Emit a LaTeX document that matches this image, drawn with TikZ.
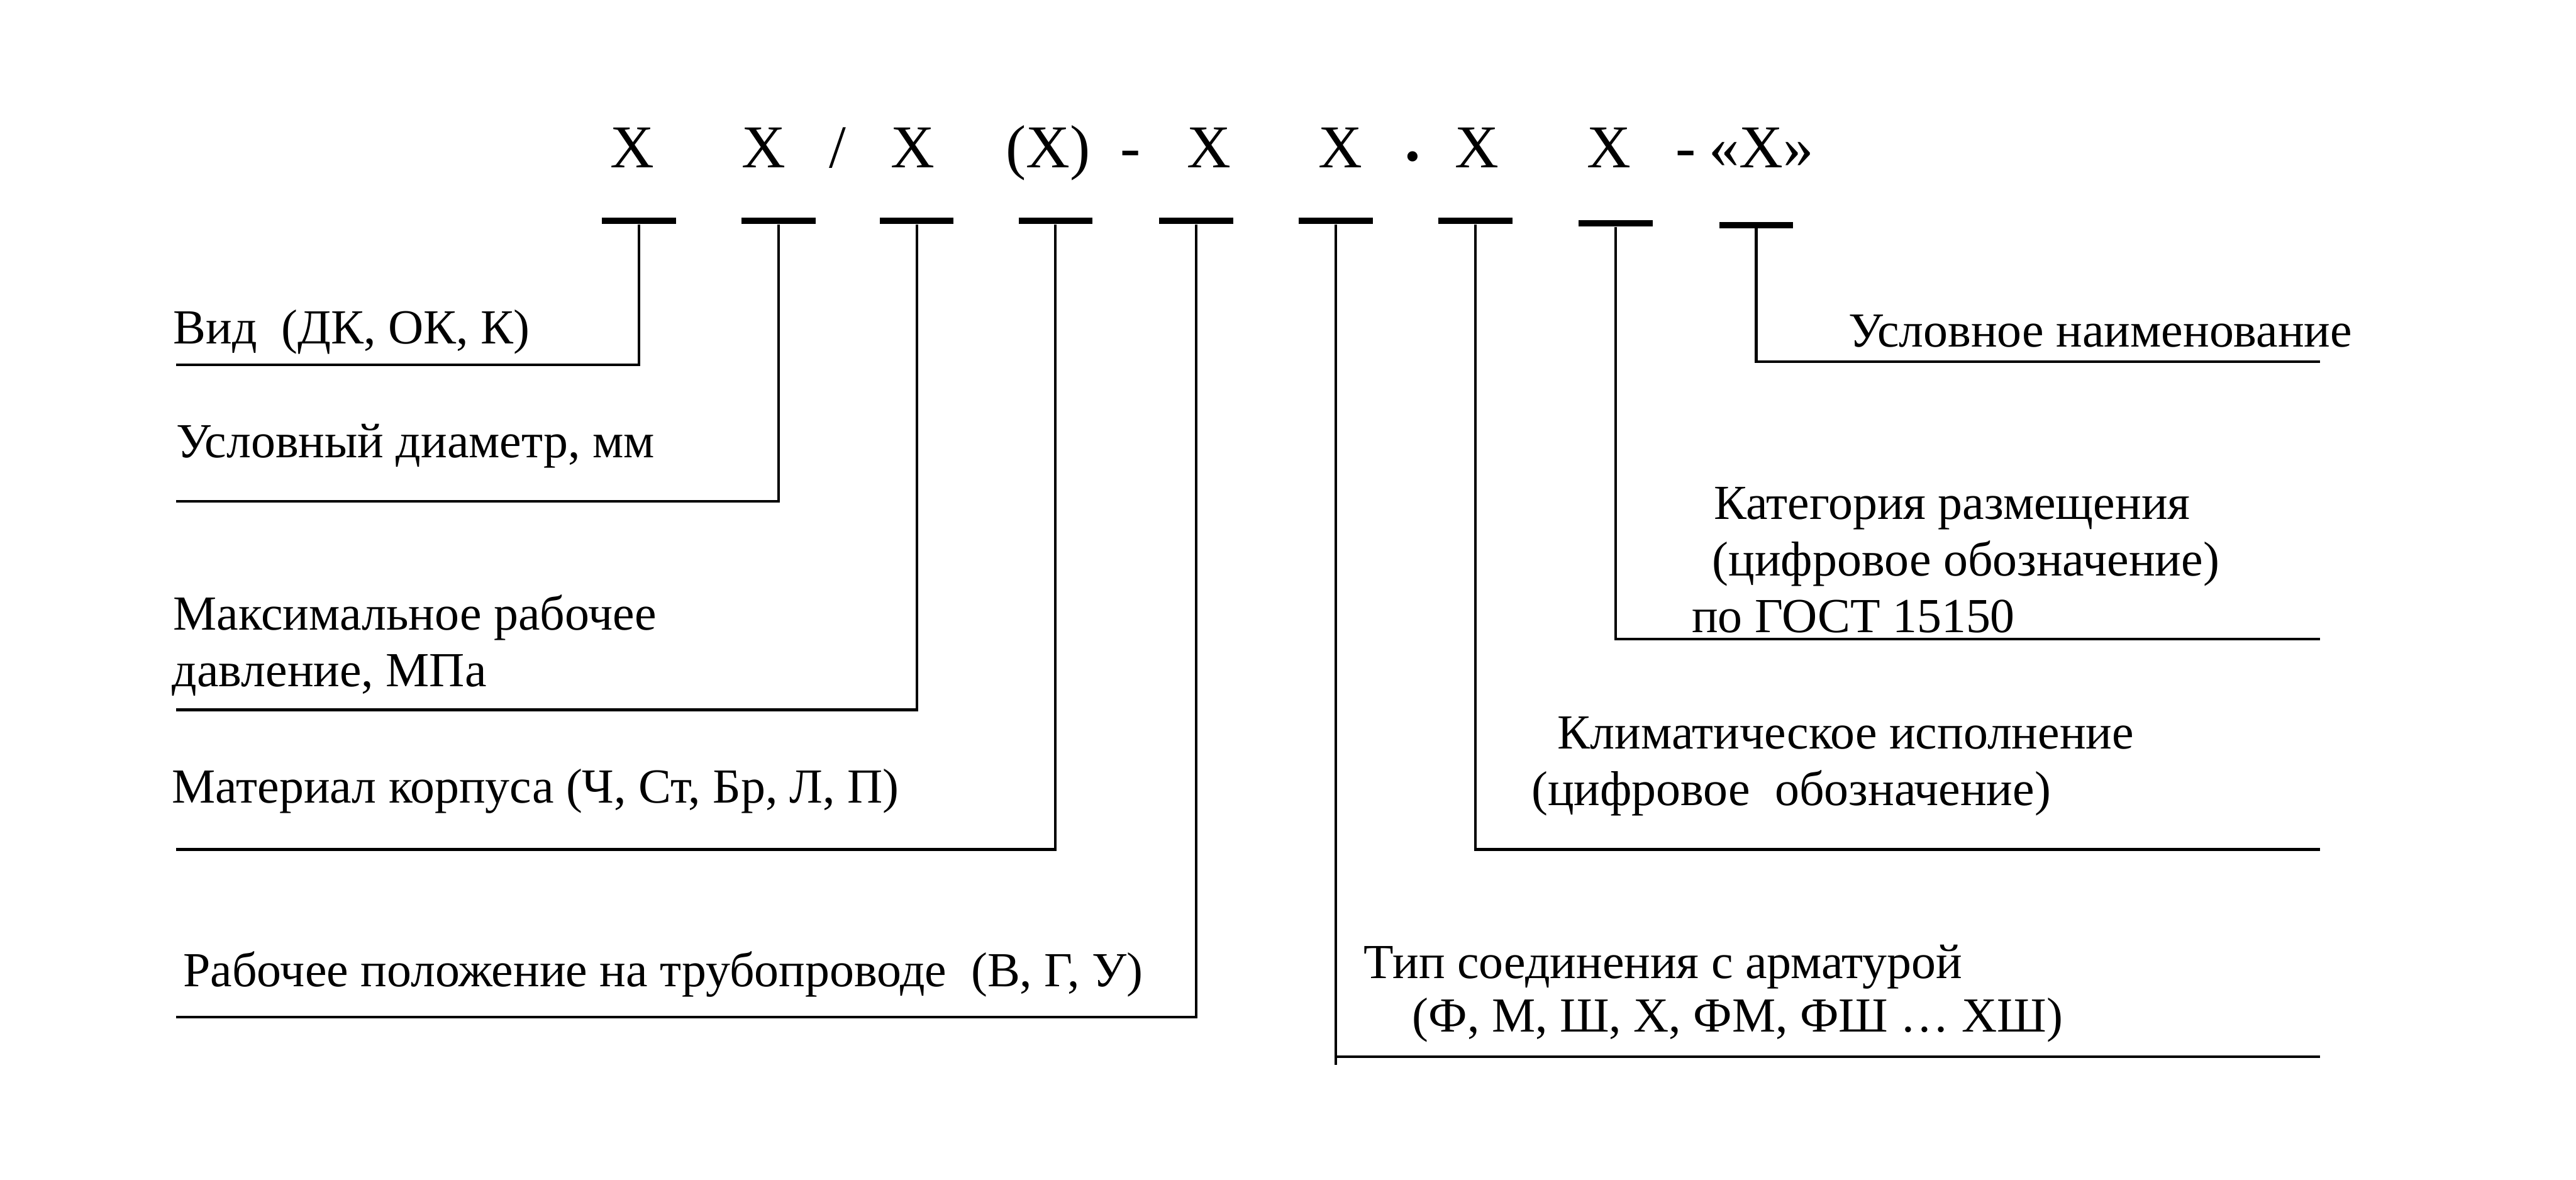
\documentclass[tikz,border=0pt]{standalone}
\usepackage{fontspec}
\setmainfont{Liberation Serif}
\begin{document}
\begin{tikzpicture}[x=1pt,y=-1pt,
  lbl/.style={anchor=base west, inner sep=0pt, font=\fontsize{29.8}{33}\selectfont},
  sym/.style={anchor=base, inner sep=0pt, font=\fontsize{37}{40}\selectfont},
  bar/.style={fill=black, minimum width=45pt, minimum height=3.8pt, inner sep=0pt},
  ln/.style={line width=1.6pt}]
\useasboundingbox (0,0) rectangle (1568,718);
\fill[white] (0,0) rectangle (1568,718);
% top code
\node[sym] (s1) at (385,102) {X};
\node[sym] (s2) at (465,102) {X};
\node[sym] (sl) at (510,102) {/};
\node[sym] (s3) at (555.6,102) {X};
\node[sym] (s4) at (638,102) {(X)};
\node[sym] (d1) at (688,102) {-};
\node[sym] (s5) at (736,102) {X};
\node[sym] (s6) at (816,102) {X};
\node[sym,font=\fontsize{26}{28}\selectfont] (dot) at (860,104) {•};
\node[sym] (s7) at (899,102) {X};
\node[sym] (s8) at (979.5,102) {X};
\node[sym] (d2) at (1026,102) {-};
\node[sym] (s9) at (1072,102) {«X»};
% bars
\node[bar] (b1) at (389,134.5) {};
\node[bar] (b2) at (474,134.5) {};
\node[bar] (b3) at (558,134.5) {};
\node[bar] (b4) at (642.5,134.5) {};
\node[bar] (b5) at (728,134.5) {};
\node[bar] (b6) at (813,134.5) {};
\node[bar] (b7) at (898,134.5) {};
\node[bar] (b8) at (983.5,136) {};
\node[bar] (b9) at (1069,137) {};
% ends
\coordinate (e1) at (107,222);
\coordinate (e2) at (107,305);
\coordinate (e3) at (107,432);
\coordinate (e4) at (107,517);
\coordinate (e5) at (107,619);
\coordinate (c6) at (813,648);
\coordinate (e6) at (1412,643);
\coordinate (e7) at (1412,517);
\coordinate (e8) at (1412,389);
\coordinate (e9) at (1412,220);
\draw[ln] (b1.south) |- (e1);
\draw[ln] (b2.south) |- (e2);
\draw[ln] (b3.south) |- (e3);
\draw[ln] (b4.south) |- (e4);
\draw[ln] (b5.south) |- (e5);
\draw[ln] (b6.south) -- (c6);
\draw[ln] (b6.south |- e6) -- (e6);
\draw[ln] (b7.south) |- (e7);
\draw[ln] (b8.south) |- (e8);
\draw[ln] (b9.south) |- (e9);
% labels left
\node[lbl] (vid) at (105.3,209.3) {Вид\ \ (ДК, ОК, К)};
\node[lbl] (usl) at (107,278.3) {Условный диаметр, мм};
\node[lbl] (max1) at (105.3,383.4) {Максимальное рабочее};
\node[lbl] (max2) at (104.6,418) {давление, МПа};
\node[lbl] (mat) at (104.6,488.6) {Материал корпуса (Ч, Ст, Бр, Л, П)};
\node[lbl] (rab) at (111.4,600.4) {Рабочее положение на трубопроводе\ \ (В, Г, У)};
% labels right
\node[lbl] (tip1) at (830,595.4) {Тип соединения с арматурой};
\node[lbl] (tip2) at (859.5,628) {(Ф, М, Ш, Х, ФМ, ФШ … ХШ)};
\node[lbl] (klim1) at (948,455.8) {Климатическое исполнение};
\node[lbl] (klim2) at (932,490) {(цифровое\ \ обозначение)};
\node[lbl] (kat1) at (1043,316) {Категория размещения};
\node[lbl] (kat2) at (1042,350.6) {(цифровое обозначение)};
\node[lbl] (kat3) at (1029.6,385) {по ГОСТ 15150};
\node[lbl] (naim) at (1125,211) {Условное наименование};
\end{tikzpicture}
\end{document}
